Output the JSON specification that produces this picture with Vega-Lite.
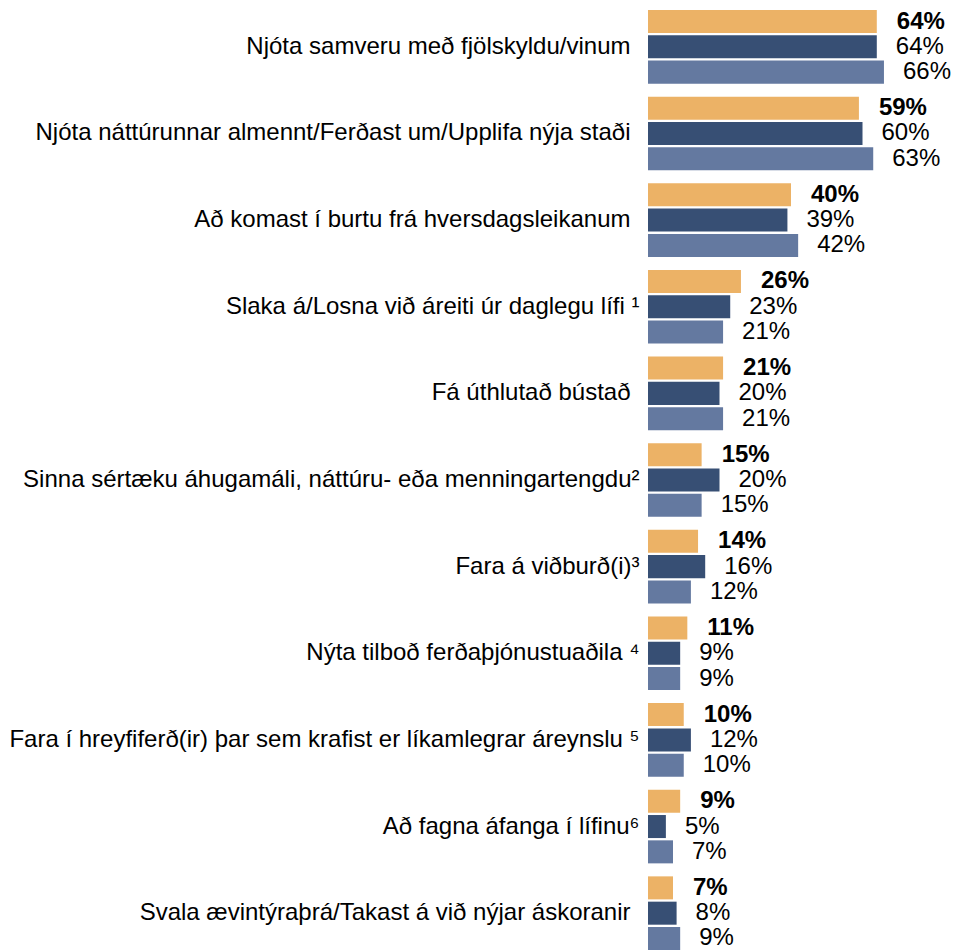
{
  "$schema": "https://vega.github.io/schema/vega-lite/v6.json",
  "width": 286,
  "height": 940,
  "autosize": {"type": "none"},
  "padding": {"left": 648, "top": 10, "right": 19, "bottom": 0},
  "config": {"view": {"stroke": null}, "font": "Liberation Sans"},
  "data": {
    "values": [
      {"cat": "Njóta samveru með fjölskyldu/vinum", "series": "s1", "v": 0.64},
      {"cat": "Njóta samveru með fjölskyldu/vinum", "series": "s2", "v": 0.64},
      {"cat": "Njóta samveru með fjölskyldu/vinum", "series": "s3", "v": 0.66},
      {"cat": "Njóta náttúrunnar almennt/Ferðast um/Upplifa nýja staði", "series": "s1", "v": 0.59},
      {"cat": "Njóta náttúrunnar almennt/Ferðast um/Upplifa nýja staði", "series": "s2", "v": 0.60},
      {"cat": "Njóta náttúrunnar almennt/Ferðast um/Upplifa nýja staði", "series": "s3", "v": 0.63},
      {"cat": "Að komast í burtu frá hversdagsleikanum", "series": "s1", "v": 0.40},
      {"cat": "Að komast í burtu frá hversdagsleikanum", "series": "s2", "v": 0.39},
      {"cat": "Að komast í burtu frá hversdagsleikanum", "series": "s3", "v": 0.42},
      {"cat": "Slaka á/Losna við áreiti úr daglegu lífi ¹", "series": "s1", "v": 0.26},
      {"cat": "Slaka á/Losna við áreiti úr daglegu lífi ¹", "series": "s2", "v": 0.23},
      {"cat": "Slaka á/Losna við áreiti úr daglegu lífi ¹", "series": "s3", "v": 0.21},
      {"cat": "Fá úthlutað bústað", "series": "s1", "v": 0.21},
      {"cat": "Fá úthlutað bústað", "series": "s2", "v": 0.20},
      {"cat": "Fá úthlutað bústað", "series": "s3", "v": 0.21},
      {"cat": "Sinna sértæku áhugamáli, náttúru- eða menningartengdu²", "series": "s1", "v": 0.15},
      {"cat": "Sinna sértæku áhugamáli, náttúru- eða menningartengdu²", "series": "s2", "v": 0.20},
      {"cat": "Sinna sértæku áhugamáli, náttúru- eða menningartengdu²", "series": "s3", "v": 0.15},
      {"cat": "Fara á viðburð(i)³", "series": "s1", "v": 0.14},
      {"cat": "Fara á viðburð(i)³", "series": "s2", "v": 0.16},
      {"cat": "Fara á viðburð(i)³", "series": "s3", "v": 0.12},
      {"cat": "Nýta tilboð ferðaþjónustuaðila ⁴", "series": "s1", "v": 0.11},
      {"cat": "Nýta tilboð ferðaþjónustuaðila ⁴", "series": "s2", "v": 0.09},
      {"cat": "Nýta tilboð ferðaþjónustuaðila ⁴", "series": "s3", "v": 0.09},
      {"cat": "Fara í hreyfiferð(ir) þar sem krafist er líkamlegrar áreynslu ⁵", "series": "s1", "v": 0.10},
      {"cat": "Fara í hreyfiferð(ir) þar sem krafist er líkamlegrar áreynslu ⁵", "series": "s2", "v": 0.12},
      {"cat": "Fara í hreyfiferð(ir) þar sem krafist er líkamlegrar áreynslu ⁵", "series": "s3", "v": 0.10},
      {"cat": "Að fagna áfanga í lífinu⁶", "series": "s1", "v": 0.09},
      {"cat": "Að fagna áfanga í lífinu⁶", "series": "s2", "v": 0.05},
      {"cat": "Að fagna áfanga í lífinu⁶", "series": "s3", "v": 0.07},
      {"cat": "Svala ævintýraþrá/Takast á við nýjar áskoranir", "series": "s1", "v": 0.07},
      {"cat": "Svala ævintýraþrá/Takast á við nýjar áskoranir", "series": "s2", "v": 0.08},
      {"cat": "Svala ævintýraþrá/Takast á við nýjar áskoranir", "series": "s3", "v": 0.09}
    ]
  },
  "encoding": {
    "y": {
      "field": "cat",
      "type": "nominal",
      "sort": null,
      "scale": {"paddingInner": 0.15, "paddingOuter": 0},
      "axis": {
        "title": null,
        "domain": false,
        "ticks": false,
        "labelFontSize": 24,
        "labelFont": "Liberation Sans",
        "labelColor": "#000000",
        "labelPadding": {"condition": {"test": "test(/(¹|²|³|⁴|⁵|⁶)$/, datum.value)", "value": 9}, "value": 18},
        "labelLimit": 700
      }
    },
    "yOffset": {
      "field": "series",
      "type": "nominal",
      "sort": ["s1", "s2", "s3"],
      "scale": {"paddingInner": 0.09, "paddingOuter": 0}
    },
    "x": {
      "field": "v",
      "type": "quantitative",
      "scale": {"domain": [0, 0.8]},
      "axis": null
    }
  },
  "layer": [
    {
      "mark": {"type": "bar"},
      "encoding": {
        "color": {
          "field": "series",
          "type": "nominal",
          "scale": {"domain": ["s1", "s2", "s3"], "range": ["#ECB266", "#374F74", "#6479A0"]},
          "legend": null
        }
      }
    },
    {
      "transform": [{"filter": "datum.series === 's1'"}],
      "mark": {"type": "text", "align": "left", "baseline": "middle", "dx": 20, "fontSize": 24, "fontWeight": "bold", "color": "#000000", "font": "Liberation Sans"},
      "encoding": {"text": {"field": "v", "type": "quantitative", "format": ".0%"}}
    },
    {
      "transform": [{"filter": "datum.series !== 's1'"}],
      "mark": {"type": "text", "align": "left", "baseline": "middle", "dx": 19, "fontSize": 24, "color": "#000000", "font": "Liberation Sans"},
      "encoding": {"text": {"field": "v", "type": "quantitative", "format": ".0%"}}
    }
  ]
}
